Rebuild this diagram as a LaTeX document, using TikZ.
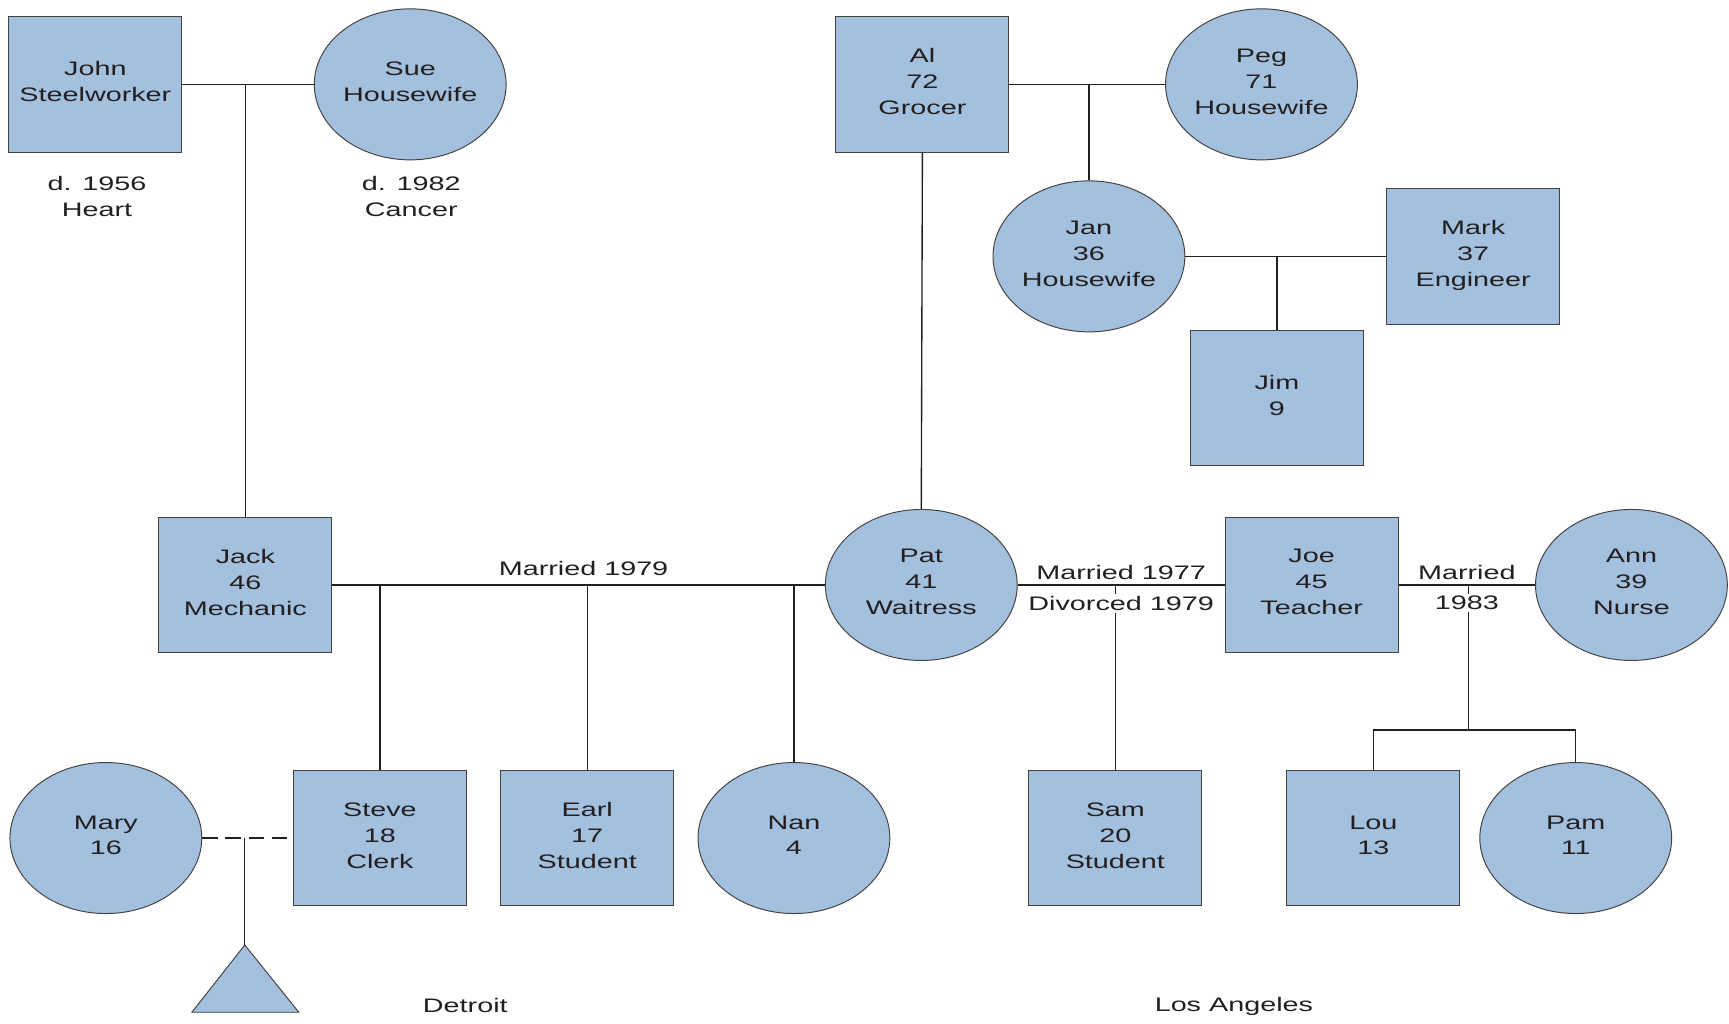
\documentclass[tikz,border=0pt]{standalone}
\usepackage{fontspec}
\setmainfont{Liberation Sans}[FakeStretch=1.47]
\usetikzlibrary{shapes.geometric}
\definecolor{kinblue}{HTML}{A3C1DE}
\definecolor{ink}{HTML}{231F20}
\tikzset{
  person/.style={draw=ink!85, fill=kinblue, line width=0.5pt, align=center, text=ink, font=\fontsize{10.1}{13.4}\selectfont, inner sep=0pt, text depth=0.1cm},
  male/.style={person, rectangle, minimum width=3.14cm, minimum height=2.46cm},
  female/.style={person, ellipse, minimum width=3.48cm, minimum height=2.74cm},
  kin/.style={draw=ink, line width=0.7pt},
  note/.style={align=center, text=ink, font=\fontsize{10.1}{13.4}\selectfont, inner sep=1pt},
}
\begin{document}
\begin{tikzpicture}[x=0.02cm, y=-0.02cm]
\useasboundingbox (0,0) rectangle (1568,928);
\node[male] (john) at (86.5,76.5) {John\\Steelworker};
\node[female] (sue) at (372,76.5) {Sue\\Housewife};
\node[note] (johnnote) at (88,178) {d. 1956\\Heart};
\node[note] (suenote) at (373,178) {d. 1982\\Cancer};
\node[male] (al) at (836.5,76.5) {Al\\72\\Grocer};
\node[female] (peg) at (1144,76.5) {Peg\\71\\Housewife};
\node[female] (jan) at (987.5,232.5) {Jan\\36\\Housewife};
\node[male] (mark) at (1336,232.5) {Mark\\37\\Engineer};
\node[male] (jim) at (1158,361) {Jim\\9};
\node[male] (jack) at (222.5,530.5) {Jack\\46\\Mechanic};
\node[female] (pat) at (835.5,530.5) {Pat\\41\\Waitress};
\node[male] (joe) at (1189.5,530.5) {Joe\\45\\Teacher};
\node[female] (ann) at (1479.5,530.5) {Ann\\39\\Nurse};
\node[female] (mary) at (96,760) {Mary\\16};
\node[male] (steve) at (344.5,760) {Steve\\18\\Clerk};
\node[male] (earl) at (532.5,760) {Earl\\17\\Student};
\node[female] (nan) at (720,760) {Nan\\4};
\node[male] (sam) at (1011.5,760) {Sam\\20\\Student};
\node[male] (lou) at (1245.5,760) {Lou\\13};
\node[female] (pam) at (1429,760) {Pam\\11};
\node[note] (detroit) at (422,912) {Detroit};
\node[note] (la) at (1119,913) {Los Angeles};
\coordinate (baby) at (222,857);
\coordinate (fork) at (1332,662);
\draw[person] (baby) -- ++(-48,61) -- ++(97,0) -- cycle;
\draw[kin] (jack.north) -- (jack.north |- john.east);
\draw[kin] (john.east) -- (sue.west);
\draw[kin] (jan.north) -- (jan.north |- al.east);
\draw[kin] (al.east) -- (peg.west);
\draw[kin] (jim.north) -- (jim.north |- mark.west);
\draw[kin] (jan.east) -- (mark.west);
\draw[kin] (al.south) -- (pat.north);
\draw[kin] (steve.north) -- (steve.north |- jack.east);
\draw[kin] (earl.north) -- (earl.north |- jack.east);
\draw[kin] (nan.north) -- (nan.north |- jack.east);
\draw[kin] (jack.east) -- node[note, above=3.5pt, pos=0.51] (m79) {Married 1979} (pat.west);
\draw[kin] (sam.north) -- (sam.north |- pat.east);
\draw[kin] (pat.east) -- node[note, above=1.5pt] (m77) {Married 1977} node[note, below=4.5pt, fill=white] (d79) {Divorced 1979} (joe.west);
\draw[kin] (fork |- joe.east) -- (fork);
\draw[kin] (lou.north) |- (fork) -| (pam.north);
\draw[kin] (joe.east) -- node[note, above=1.5pt] (m83) {Married} node[note, below=4.5pt, fill=white] (y83) {1983} (ann.west);
\draw[kin] (baby) -- (baby |- steve.west);
\draw[kin, dash pattern=on 0.28cm off 0.14cm] (mary.east) -- (steve.west);
\end{tikzpicture}
\end{document}
